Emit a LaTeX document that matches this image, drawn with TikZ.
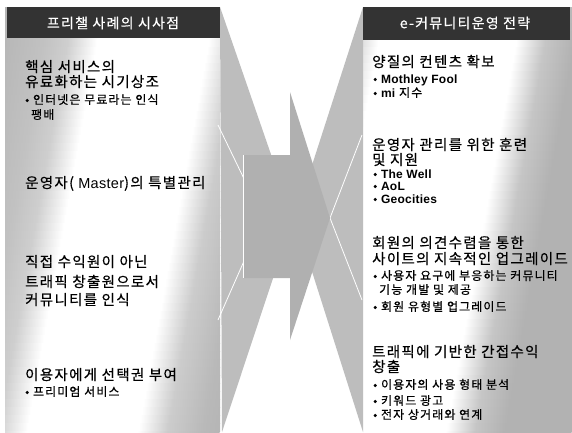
\documentclass[tikz,border=0pt]{standalone}
\usepackage{fontspec}
\setmainfont{Noto Sans CJK KR}[LetterSpace=9, FakeBold=0.5]
\newfontfamily\arial{Liberation Sans}[LetterSpace=2]
\pgfdeclarehorizontalshading{lpanel}{100bp}{color(0bp)=(gray!58); color(25bp)=(gray!58); color(33bp)=(gray!48); color(37bp)=(gray!38); color(42bp)=(white); color(61bp)=(white); color(66bp)=(gray!40); color(72bp)=(gray!55); color(75bp)=(gray!58); color(100bp)=(gray!58)}
\pgfdeclarehorizontalshading{rpanel}{100bp}{color(0bp)=(gray!35); color(25bp)=(gray!35); color(29bp)=(white); color(53bp)=(white); color(58bp)=(gray!45); color(63bp)=(gray!60); color(75bp)=(gray!60); color(100bp)=(gray!60)}
\begin{document}
\begin{tikzpicture}[x=1pt,y=-1pt,
  main/.style={anchor=base west, inner sep=0pt, font=\fontsize{14.5}{16}\selectfont},
  sub/.style={anchor=base west, inner sep=0pt, font=\fontsize{12}{14}\selectfont},
  head/.style={anchor=center, inner sep=0pt, text=white, font=\fontsize{14}{16}\selectfont},
  wedge/.style={fill=gray!52, draw=none},
  wline/.style={draw=white, line width=0.8pt},
  headbar/.style={fill=black!80, draw=none},
  arrowfill/.style={fill=gray!62, draw=none}
]
\useasboundingbox (0,0) rectangle (572,432);
\fill[white] (0,0) rectangle (572,432);
% panels (slanted shading bands built from thin strips)
\begin{scope}
  \clip (5,7) rectangle (220,432);
  \foreach \yy in {7,15,...,431} {
    \pgfmathsetmacro\ss{0.18*(\yy+4)}
    \shade[shading=lpanel] ({5-\ss},\yy) rectangle ({298-\ss},\yy+8.6);
  }
\end{scope}
\begin{scope}
  \clip (363,7) rectangle (572,432);
  \foreach \yy in {7,15,...,431} {
    \pgfmathsetmacro\ss{0.18*(\yy+4)}
    \shade[shading=rpanel] ({363-\ss},\yy) rectangle ({650-\ss},\yy+8.6);
  }
\end{scope}
% wedges
\fill[wedge] (220,7) -- (293,218) -- (222,432) -- cycle;
\fill[wedge] (363,7) -- (295,218) -- (363,432) -- cycle;
% perspective lines
\draw[wline] (263,218) -- (218,125);
\draw[wline] (263,218) -- (218,320);
\draw[wline] (330,218) -- (362,135);
\draw[wline] (330,218) -- (362,300);
% arrow
\fill[arrowfill] (243,155) -- (290,155) -- (290,92) -- (330,218) -- (290,340) -- (290,278) -- (243,278) -- cycle;
\draw[wline] (243,155) -- (243,278);
% headers
\fill[headbar] (7,7) rectangle (220,38);
\fill[headbar] (363,7) rectangle (570,40);
\node[head] (lh) at (113,23) {프리챌 사례의 시사점};
\node[head] (rh) at (465,23) {e-커뮤니티운영 전략};
% left texts
\node[main] (l1) at (25,72) {핵심 서비스의};
\node[main] (l2) at (25,87) {유료화하는 시기상조};
\node[sub] (l3) at (25,104) {• 인터넷은 무료라는 인식};
\node[sub] (l4) at (31,119) {팽배};
\node[main] (l5) at (25,188) {운영자({\arial\ Master})의 특별관리};
\node[main] (l6) at (25,267) {직접 수익원이 아닌};
\node[main] (l7) at (25,287) {트래픽 창출원으로서};
\node[main] (l8) at (25,305) {커뮤니티를 인식};
\node[main] (l9) at (25,380) {이용자에게 선택권 부여};
\node[sub] (l10) at (25,396) {• 프리미엄 서비스};
% right texts
\node[main] (r1) at (372,67) {양질의 컨텐츠 확보};
\node[sub] (r2) at (373,83) {• {\arial\bfseries Mothley Fool}};
\node[sub] (r3) at (373,97) {• {\arial\bfseries mi} 지수};
\node[main] (r4) at (372,150) {운영자 관리를 위한 훈련};
\node[main] (r5) at (372,165) {및 지원};
\node[sub] (r6) at (373,178) {• {\arial\bfseries The Well}};
\node[sub] (r7) at (373,190) {• {\arial\bfseries AoL}};
\node[sub] (r8) at (373,203) {• {\arial\bfseries Geocities}};
\node[main] (r9) at (372,248) {회원의 의견수렴을 통한};
\node[main] (r10) at (372,264) {사이트의 지속적인 업그레이드};
\node[sub] (r11) at (373,280) {• 사용자 요구에 부응하는 커뮤니티};
\node[sub] (r12) at (379,294) {기능 개발 및 제공};
\node[sub] (r13) at (373,311) {• 회원 유형별 업그레이드};
\node[main] (r14) at (372,357) {트래픽에 기반한 간접수익};
\node[main] (r15) at (372,372) {창출};
\node[sub] (r16) at (373,389) {• 이용자의 사용 형태 분석};
\node[sub] (r17) at (373,405) {• 키워드 광고};
\node[sub] (r18) at (373,419) {• 전자 상거래와 연계};
\end{tikzpicture}
\end{document}
